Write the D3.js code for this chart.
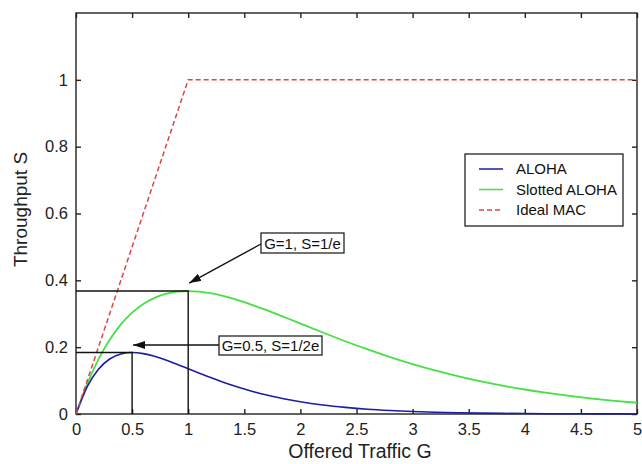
<!DOCTYPE html>
<html>
<head>
<meta charset="utf-8">
<script src="https://cdn.jsdelivr.net/npm/d3@7"></script>
<style>
  html, body { margin: 0; padding: 0; background: #fff; }
  svg { display: block; font-family: "Liberation Sans", Arial, sans-serif; }
</style>
</head>
<body>
<svg id="chart" width="642" height="464"></svg>
<script>
// ---- data ----
const G = [0,0.1,0.2,0.3,0.4,0.5,0.6,0.7,0.8,0.9,1.0,1.1,1.2,1.3,1.4,1.5,1.6,1.7,1.8,1.9,2.0,
           2.2,2.4,2.6,2.8,3.0,3.2,3.4,3.6,3.8,4.0,4.2,4.4,4.6,4.8,5.0];
const alohaS = [0,0.0819,0.1341,0.1646,0.1797,0.1839,0.1807,0.1726,0.1615,0.1488,0.1353,0.1219,0.1089,0.0966,0.0851,0.0747,0.0652,0.0567,0.0492,0.0425,0.0366,
                0.0270,0.0198,0.0143,0.0104,0.0074,0.0053,0.0038,0.0027,0.0019,0.0013,0.0009,0.0007,0.0005,0.0003,0.0002];
const slottedS = [0,0.0905,0.1637,0.2222,0.2681,0.3033,0.3293,0.3476,0.3595,0.3659,0.3679,0.3662,0.3614,0.3543,0.3452,0.3347,0.3230,0.3106,0.2975,0.2842,0.2707,
                  0.2438,0.2177,0.1931,0.1703,0.1494,0.1304,0.1135,0.0984,0.0850,0.0733,0.0630,0.0540,0.0462,0.0395,0.0337];
const idealG = [0, 1, 5];
const idealS = [0, 1, 1];
const seriesNames = ["ALOHA", "Slotted ALOHA", "Ideal MAC"];
const xTicks = [0,0.5,1,1.5,2,2.5,3,3.5,4,4.5,5];
const xTickLabels = ["0","0.5","1","1.5","2","2.5","3","3.5","4","4.5","5"];
const yTicks = [0,0.2,0.4,0.6,0.8,1];
const yTickLabels = ["0","0.2","0.4","0.6","0.8","1"];
const markG = [1, 0.5];
const markS = [0.3679, 0.1839];
const markText = ["G=1, S=1/e", "G=0.5, S=1/2e"];
const xLabel = "Offered Traffic G";
const yLabel = "Throughput S";

// ---- layout ----
const svg = d3.select("#chart");
const L = 76, R = 637, T = 13, B = 414;
const x = d3.scaleLinear().domain([0, 5]).range([L, R]);
const y = d3.scaleLinear().domain([0, 1.2]).range([B, T]);
const colors = ["#1c1ca8", "#44e044", "#e04444"];
const axisColor = "#222";

// box frame
svg.append("rect").attr("x", L).attr("y", T).attr("width", R - L).attr("height", B - T)
  .attr("fill", "none").attr("stroke", axisColor).attr("stroke-width", 1.4);

// axes (MATLAB-like inward ticks)
const xAxis = d3.axisBottom(x).tickValues(xTicks).tickFormat((d, i) => xTickLabels[i])
  .tickSizeInner(-5).tickSizeOuter(0).tickPadding(9);
const gx = svg.append("g").attr("transform", `translate(0,${B})`).call(xAxis);
const yAxis = d3.axisLeft(y).tickValues(yTicks).tickFormat((d, i) => yTickLabels[i])
  .tickSizeInner(-5).tickSizeOuter(0).tickPadding(8);
const gy = svg.append("g").attr("transform", `translate(${L},0)`).call(yAxis);
const gxt = svg.append("g").attr("transform", `translate(0,${T})`)
  .call(d3.axisTop(x).tickValues(xTicks).tickFormat("").tickSizeInner(-5).tickSizeOuter(0));
const gyr = svg.append("g").attr("transform", `translate(${R},0)`)
  .call(d3.axisRight(y).tickValues(yTicks).tickFormat("").tickSizeInner(-5).tickSizeOuter(0));
[gx, gy, gxt, gyr].forEach(g => {
  g.select(".domain").remove();
  g.selectAll(".tick line").attr("stroke", axisColor).attr("stroke-width", 1.4);
  g.selectAll(".tick text").attr("fill", "#222").style("font-size", "16.5px");
});

// axis labels
svg.append("text").attr("x", 360).attr("y", 458).attr("text-anchor", "middle")
  .style("font-size", "19.5px").attr("fill", "#222").text(xLabel);
svg.append("text").attr("transform", `translate(27,${(T + B) / 2 - 4}) rotate(-90)`)
  .attr("text-anchor", "middle").style("font-size", "19px").attr("fill", "#222").text(yLabel);

// curves
const line = d3.line().x(d => x(d[0])).y(d => y(d[1])).curve(d3.curveMonotoneX);
svg.append("path").datum(G.map((g, i) => [g, slottedS[i]])).attr("d", line)
  .attr("fill", "none").attr("stroke", colors[1]).attr("stroke-width", 1.8);
svg.append("path").datum(G.map((g, i) => [g, alohaS[i]])).attr("d", line)
  .attr("fill", "none").attr("stroke", colors[0]).attr("stroke-width", 1.6);
svg.append("path").datum(idealG.map((g, i) => [g, idealS[i]]))
  .attr("d", d3.line().x(d => x(d[0])).y(d => y(d[1])))
  .attr("fill", "none").attr("stroke", colors[2]).attr("stroke-width", 1.5)
  .attr("stroke-dasharray", "5,3");

// guide lines to the maxima
markG.forEach((g, i) => {
  svg.append("path")
    .attr("d", `M${x(0)},${y(markS[i])}H${x(g)}V${y(0)}`)
    .attr("fill", "none").attr("stroke", "#111").attr("stroke-width", 1.4);
});

// arrows
const defs = svg.append("defs");
defs.append("marker").attr("id", "ah").attr("viewBox", "0 0 12 8").attr("refX", 12).attr("refY", 4)
  .attr("markerWidth", 12).attr("markerHeight", 8).attr("markerUnits", "userSpaceOnUse")
  .attr("orient", "auto")
  .append("path").attr("d", "M0,0L12,4L0,8Z").attr("fill", "#111");

// annotation boxes (text positions in pixels offset from data points)
const ann = [
  { bx: 261, by: 233, bw: 83, bh: 20, from: [261, 244], to: [x(markG[0]) + 1, y(markS[0]) - 8] },
  { bx: 219, by: 336, bw: 103, bh: 19, from: [219, 345], to: [x(markG[1]) + 1, 345] }
];
ann.forEach((a, i) => {
  svg.append("line").attr("x1", a.from[0]).attr("y1", a.from[1]).attr("x2", a.to[0]).attr("y2", a.to[1])
    .attr("stroke", "#111").attr("stroke-width", 1.4).attr("marker-end", "url(#ah)");
  svg.append("rect").attr("x", a.bx).attr("y", a.by).attr("width", a.bw).attr("height", a.bh)
    .attr("fill", "#fff").attr("stroke", "#111").attr("stroke-width", 1.2);
  svg.append("text").attr("x", a.bx + a.bw / 2).attr("y", a.by + a.bh / 2 + 5.5)
    .attr("text-anchor", "middle").style("font-size", "15px").attr("fill", "#111").text(markText[i]);
});

// legend
const lg = svg.append("g");
lg.append("rect").attr("x", 465).attr("y", 154).attr("width", 158).attr("height", 72)
  .attr("fill", "#fff").attr("stroke", "#111").attr("stroke-width", 1.2);
seriesNames.forEach((n, i) => {
  const yy = 169 + i * 20.5;
  lg.append("line").attr("x1", 479).attr("x2", 503).attr("y1", yy).attr("y2", yy)
    .attr("stroke", colors[i]).attr("stroke-width", 1.5)
    .attr("stroke-dasharray", i === 2 ? "5,3" : null);
  lg.append("text").attr("x", 516).attr("y", yy + 5).style("font-size", "15px").attr("fill", "#111").text(n);
});
</script>
</body>
</html>
